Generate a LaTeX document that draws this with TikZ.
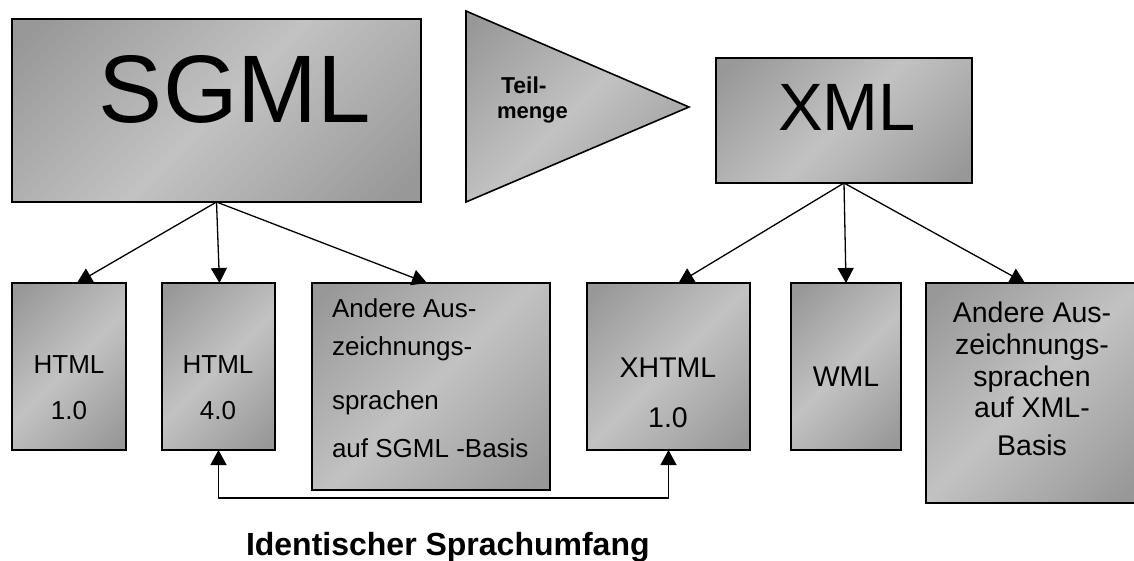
\documentclass[tikz,border=0pt]{standalone}
\usepackage{fontspec}
\setmainfont{Liberation Sans}
\usetikzlibrary{arrows.meta}
\definecolor{sdark}{RGB}{152,152,152}
\definecolor{slight}{RGB}{194,194,194}
\pgfdeclarehorizontalshading{mirrorgray}{100bp}{color(0bp)=(sdark); color(18bp)=(sdark); color(50bp)=(slight); color(82bp)=(sdark); color(100bp)=(sdark)}
\newcommand{\fs}[1]{\fontsize{#1}{#1}\selectfont}
\tikzset{
  boxnode/.style={draw=black, line width=1.6pt, shading=mirrorgray, shading angle=-45,
    rectangle, inner sep=0pt, outer sep=0pt, anchor=north west},
  conn/.style={line width=1.3pt, -{Triangle[length=15pt,width=16pt]}},
  txt/.style={inner sep=0pt, outer sep=0pt, anchor=base},
  txtl/.style={inner sep=0pt, outer sep=0pt, anchor=base west},
}
\begin{document}
\begin{tikzpicture}[x=1pt, y=-1pt]
\useasboundingbox (0,0) rectangle (1134,560);
\fill[white] (0,0) rectangle (1134,560);
% boxes
\node[boxnode, minimum width=409pt, minimum height=183pt] (sgml) at (12,19) {};
\node[boxnode, minimum width=256pt, minimum height=125pt] (xml) at (716,58) {};
\node[boxnode, minimum width=114pt, minimum height=167pt] (html1) at (12,283) {};
\node[boxnode, minimum width=113pt, minimum height=167pt] (html4) at (162,283) {};
\node[boxnode, minimum width=238pt, minimum height=207pt] (asgml) at (312,283) {};
\node[boxnode, minimum width=163pt, minimum height=167pt] (xhtml) at (587,283) {};
\node[boxnode, minimum width=110pt, minimum height=167pt] (wml) at (791,283) {};
\node[boxnode, minimum width=212pt, minimum height=220pt] (axml) at (926,283) {};
% triangle
\draw[line width=1.6pt, shading=mirrorgray, shading angle=-45, line join=miter]
  (466,11) -- (689,107) -- (466,202) -- cycle;
% texts
\node[txt] (tsgml) at (235,122) {\fs{96}SGML};
\node[txt] (txml) at (847,130) {\fs{67}XML};
\node[txtl] (tteil) at (501,93) {\fs{23}\bfseries Teil-};
\node[txtl] (tmenge) at (497,118) {\fs{22}\bfseries menge};
\node[txt] (th1a) at (69,373) {\fs{26}HTML};
\node[txt] (th1b) at (69,419) {\fs{26}1.0};
\node[txt] (th4a) at (218,373) {\fs{26}HTML};
\node[txt] (th4b) at (218,419) {\fs{26}4.0};
\node[txtl] (tas1) at (332,317) {\fs{26}Andere Aus-};
\node[txtl] (tas2) at (332,355) {\fs{26}zeichnungs-};
\node[txtl] (tas3) at (332,409) {\fs{26}sprachen};
\node[txtl] (tas4) at (332,457) {\fs{26}auf SGML -Basis};
\node[txt] (txh1) at (668,377) {\fs{28.5}XHTML};
\node[txt] (txh2) at (668,427) {\fs{28.5}1.0};
\node[txt] (twml) at (846,386) {\fs{28.5}WML};
\node[txt] (tax1) at (1032,322) {\fs{28.5}Andere Aus-};
\node[txt] (tax2) at (1032,354) {\fs{28.5}zeichnungs-};
\node[txt] (tax3) at (1032,386) {\fs{28.5}sprachen};
\node[txt] (tax4) at (1032,417) {\fs{28.5}auf XML-};
\node[txt] (tax5) at (1032,455) {\fs{28.5}Basis};
\node[txtl] (tident) at (246,555) {\fs{32}\bfseries Identischer Sprachumfang};
% connectors
\draw[conn] (sgml.south) -- ([xshift=8pt]html1.north);
\draw[conn] (sgml.south) -- ([xshift=1pt]html4.north);
\draw[conn] (sgml.south) -- ([xshift=-4pt]asgml.north);
\draw[conn] (xml.south) -- ([xshift=10pt]xhtml.north);
\draw[conn] (xml.south) -- (wml.north);
\draw[conn] (xml.south) -- ([xshift=-7pt]axml.north);
\coordinate (bot) at (0,498);
\draw[line width=1.3pt, {Triangle[length=15pt,width=16pt]}-{Triangle[length=15pt,width=16pt]}]
  (html4.south) -- (html4.south |- bot) -- (xhtml.south |- bot) -- (xhtml.south);
\end{tikzpicture}
\end{document}
